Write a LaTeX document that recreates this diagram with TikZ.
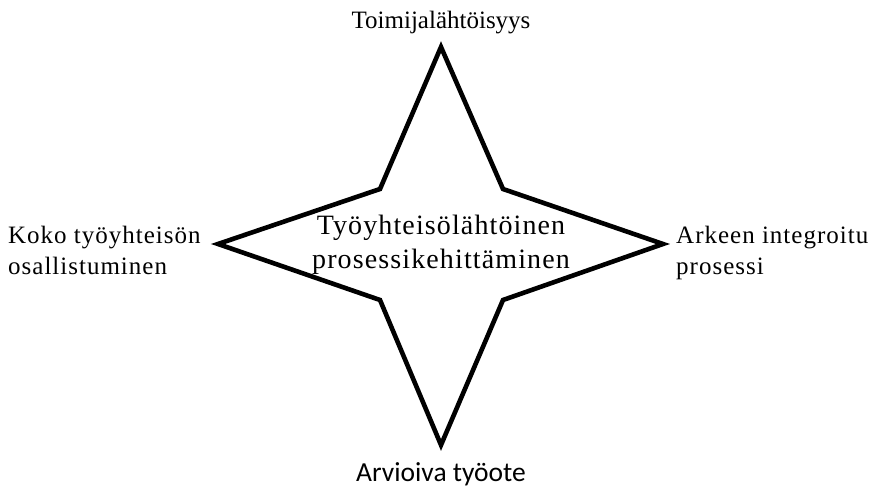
\documentclass[tikz,border=0pt]{standalone}
\usepackage{fontspec}
\setmainfont{Liberation Serif}
\newfontfamily\calfont{Carlito}
\newfontfamily\widefont[LetterSpace=4]{Liberation Serif}
\newfontfamily\corefont[LetterSpace=4]{Liberation Serif}
\usepackage{tikz}
\usetikzlibrary{positioning}

\begin{document}
\begin{tikzpicture}[x=1pt,y=-1pt,
  dimlabel/.style={font=\fontsize{25}{31}\widefont\selectfont, inner sep=0pt, align=left},
  corelabel/.style={font=\fontsize{28}{34}\corefont\selectfont, inner sep=0pt, align=center}]
\useasboundingbox (0,0) rectangle (873,494);
% star points
\coordinate (ptop) at (441,47);
\coordinate (pright) at (663,244);
\coordinate (pbottom) at (441,445);
\coordinate (pleft) at (218,244);
\coordinate (ine) at (503,189);
\coordinate (ise) at (503,300);
\coordinate (isw) at (380,300);
\coordinate (inw) at (380,189);
\draw[line width=4.6pt, miter limit=20] (ptop) -- (ine) -- (pright) -- (ise) -- (pbottom)
  -- (isw) -- (pleft) -- (inw) -- cycle;
% texts (base = last line)
\node[corelabel, anchor=base] (core) at (441,269) {Työyhteisölähtöinen\\prosessikehittäminen};
\node[font=\fontsize{25}{30}\selectfont, inner sep=0pt, anchor=base] (toimija) at (441,29) {Toimijalähtöisyys};
\node[dimlabel, anchor=base west] (koko) at (8,275) {Koko työyhteisön\\osallistuminen};
\node[dimlabel, anchor=base west] (arki) at (676,275) {Arkeen integroitu\\prosessi};
\node[font=\fontsize{27.5}{30}\calfont\selectfont, inner sep=0pt, anchor=base] (arvio) at (441,481) {Arvioiva työote};
\end{tikzpicture}
\end{document}
